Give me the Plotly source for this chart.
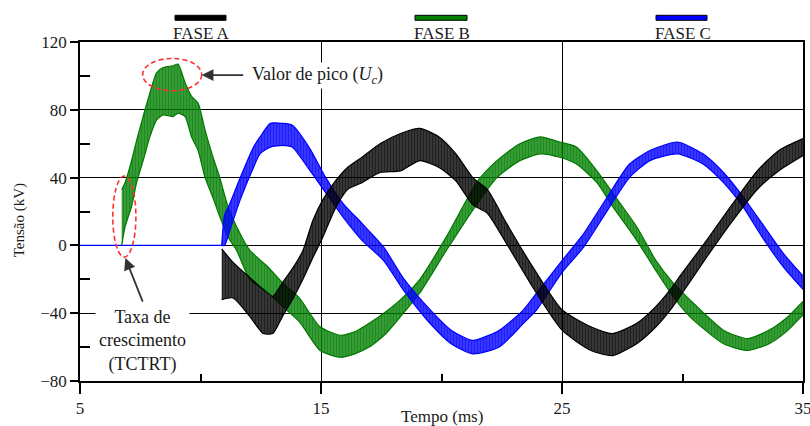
import plotly.graph_objects as go

# Time axis (ms) and oscillation envelopes (kV) for each phase:
# upper and lower limits of the high-frequency ripple band.
green_t = [6.73, 6.87, 7.14, 7.35, 7.62, 7.90, 8.18, 8.45, 8.86, 9.07, 9.36, 9.63, 9.90,
           10.19, 10.52, 10.80, 11.14, 11.50, 12.05, 12.75, 13.40, 14.10, 14.96, 15.80,
           16.40, 17.00, 17.70, 18.30, 19.10, 20.20, 21.50, 22.30, 23.25, 24.10, 24.90,
           25.60, 26.45, 27.10, 28.10, 28.90, 29.60, 30.30, 31.70, 32.70, 33.60, 34.30, 35.00]
green_up = [33, 37, 50, 62, 76, 90, 102, 105, 106, 107, 96, 88, 84,
            68, 52, 40, 23, 11, -3, -12, -22, -31, -48, -53,
            -51, -46, -39, -32, -20, 5, 38, 50, 60, 64, 61,
            58, 44, 31, 11, -9, -22, -32, -50, -55, -50, -43, -33]
green_lo = [0, 11, 23, 37, 50, 64, 74, 77, 76, 78, 76, 64, 56,
            40, 28, 17, 5, -3, -20, -27, -36, -45, -62, -66,
            -64, -60, -52, -42, -28, -3, 25, 40, 50, 54, 52,
            48, 37, 23, 3, -15, -30, -42, -58, -62, -58, -51, -41]

black_t = [10.88, 11.35, 12.05, 12.60, 13.00, 13.40, 13.85, 14.25, 14.67, 15.08, 15.60,
           16.10, 16.70, 17.45, 18.30, 19.10, 19.90, 20.60, 21.30, 21.90, 22.70, 23.80,
           25.00, 26.20, 27.10, 28.10, 28.90, 29.50, 29.90, 31.00, 32.00, 33.10, 34.00, 35.00]
black_up = [-2, -10, -19, -26, -30, -22, -13, -3, 15, 27, 38,
            46, 52, 60, 66, 69, 64, 54, 40, 33, 13, -13,
            -38, -48, -52, -46, -36, -26, -18, 3, 23, 44, 56, 63]
black_lo = [-32, -31, -42, -52, -52, -42, -31, -20, -7, 5, 22,
            33, 37, 43, 44, 50, 46, 38, 24, 19, 1, -25,
            -50, -62, -65, -58, -48, -38, -30, -7, 13, 33, 44, 53]

blue_base_t = [5.0, 10.88]
blue_base_v = [0, 0]
blue_t = [10.88, 11.00, 11.20, 11.65, 12.20, 12.47, 12.90, 13.40, 13.80, 14.50, 15.20,
          15.90, 16.70, 17.60, 18.40, 19.40, 20.40, 21.30, 22.40, 23.40, 23.95, 25.00,
          25.90, 26.90, 27.80, 28.65, 29.80, 30.85, 31.70, 32.50, 33.30, 34.20, 35.00]
blue_up = [0, 18, 24, 40, 58, 64, 72, 72, 71, 58, 40,
           25, 13, -1, -19, -36, -50, -56, -50, -38, -28, -9,
           7, 29, 48, 56, 61, 54, 43, 29, 13, -5, -18]
blue_lo = [0, 0, 8, 27, 46, 54, 58, 59, 58, 45, 31,
           17, 3, -9, -26, -44, -58, -64, -60, -46, -38, -16,
           -1, 21, 40, 50, 54, 48, 37, 23, 5, -13, -26]

x_ticks = [5, 15, 25, 35]
x_minor = [10, 20, 30]
y_ticks = [-80, -40, 0, 40, 80, 120]
y_minor = [-60, -20, 20, 60, 100]

phases = [
    ("FASE B", green_t, green_up, green_lo, "#007800", "rgba(0,128,0,0.75)"),
    ("FASE C", blue_t, blue_up, blue_lo, "#0000ff", "rgba(0,0,255,0.75)"),
    ("FASE A", black_t, black_up, black_lo, "#000000", "rgba(0,0,0,0.75)"),
]

SERIF = "Liberation Serif"
TXT = "#1a1a1a"

# Plot frame in pixels, used to place legend and labels in paper units
L, R, T, B = 80, 803, 41.7, 380.7
W, H = R - L, B - T


def px(x):
    return (x - L) / W


def py(y):
    return (B - y) / H


fig = go.Figure()

# Blue phase stays at zero until the breaker pole opens
fig.add_trace(go.Scatter(x=blue_base_t, y=blue_base_v, mode="lines",
                         line=dict(color="#0000ff", width=1.4), showlegend=False,
                         hoverinfo="skip"))

for name, t, up, lo, col, bg in phases:
    fig.add_trace(go.Scatter(x=t, y=up, mode="lines", name=name,
                             line=dict(color=col, width=1.2, shape="spline", smoothing=0.6),
                             showlegend=False, hoverinfo="skip"))
    fig.add_trace(go.Scatter(x=t, y=lo, mode="lines", name=name,
                             line=dict(color=col, width=1.2, shape="spline", smoothing=0.6),
                             fill="tonexty", fillcolor=bg,
                             fillpattern=dict(shape="|", size=3, solidity=0.55,
                                              fgcolor=col, bgcolor=bg),
                             showlegend=False, hoverinfo="skip"))

axis_common = dict(showline=True, mirror=True, linecolor="black", linewidth=1.5,
                   showgrid=True, gridcolor="black", gridwidth=1.3, zeroline=False,
                   ticks="outside", tickcolor="black", tickwidth=1.5, automargin=False,
                   tickfont=dict(family=SERIF, size=17, color=TXT))

fig.update_xaxes(range=[5, 35], tickvals=x_ticks, ticklen=11, ticklabeloverflow="allow",
                 minor=dict(tickvals=x_minor, ticks="inside", ticklen=7,
                            tickcolor="black", tickwidth=1.5, showgrid=False),
                 **axis_common)
fig.update_yaxes(range=[-80, 120], tickvals=y_ticks, ticklen=8,
                 minor=dict(tickvals=y_minor, ticks="inside", ticklen=10,
                            tickcolor="black", tickwidth=1.5, showgrid=False),
                 **axis_common)

# Legend drawn as coloured bars above the frame
legend_items = [("FASE A", "#000000", 175, 226),
                ("FASE B", "#008000", 415, 467),
                ("FASE C", "#0000ff", 656, 707)]
shapes = []
annotations = []
for label, col, x0, x1 in legend_items:
    shapes.append(dict(type="rect", xref="paper", yref="paper", x0=px(x0), x1=px(x1),
                       y0=py(20), y1=py(15), fillcolor=col,
                       line=dict(color="black", width=1)))
    annotations.append(dict(text=label, xref="paper", yref="paper",
                            x=px((x0 + x1) / 2 + 1), y=py(33), xanchor="center",
                            yanchor="middle", showarrow=False,
                            font=dict(family=SERIF, size=17, color=TXT)))

# Dashed ellipses marking the peak and the rate of rise
ellipse_line = dict(color="#ff3030", width=1.6, dash="5px,3px")
shapes.append(dict(type="circle", xref="x", yref="y", x0=7.60, x1=10.05, y0=91.2, y1=110.3,
                   line=ellipse_line))
shapes.append(dict(type="circle", xref="x", yref="y", x0=6.36, x1=7.32, y0=-6.9, y1=40.9,
                   line=ellipse_line))

annotations += [
    dict(text="Valor de pico (<i>U</i><sub><i>c</i></sub>)", x=px(250), y=py(75),
         xref="paper", yref="paper", xanchor="left", yanchor="middle", showarrow=False,
         bgcolor="white", font=dict(family=SERIF, size=18, color=TXT)),
    dict(text="", x=10.05, y=100.5, xref="x", yref="y", ax=43, ay=0,
         showarrow=True, arrowhead=2, arrowsize=1.3, arrowwidth=1.8, arrowcolor="#333"),
    dict(text="Taxa de<br>crescimento<br>(TCTRT)", x=px(142), y=py(341),
         xref="paper", yref="paper", xanchor="center", yanchor="middle",
         showarrow=False, bgcolor="white", borderpad=3,
         font=dict(family=SERIF, size=18, color=TXT)),
    dict(text="", x=6.88, y=-7.5, xref="x", yref="y", ax=18, ay=45,
         showarrow=True, arrowhead=2, arrowsize=1.3, arrowwidth=1.8, arrowcolor="#333"),
    dict(text="Tempo (ms)", x=px(442), y=py(416), xref="paper", yref="paper",
         xanchor="center", yanchor="middle", showarrow=False,
         font=dict(family=SERIF, size=17, color=TXT)),
    dict(text="Tensão (kV)", x=px(19), y=py(220), xref="paper", yref="paper",
         xanchor="center", yanchor="middle", textangle=-90, showarrow=False,
         font=dict(family=SERIF, size=15, color=TXT)),
]

fig.update_layout(width=810, height=426, margin=dict(l=80, r=7, t=42, b=45),
                  paper_bgcolor="white", plot_bgcolor="white",
                  shapes=shapes, annotations=annotations, showlegend=False)

fig.write_html("out.html")
